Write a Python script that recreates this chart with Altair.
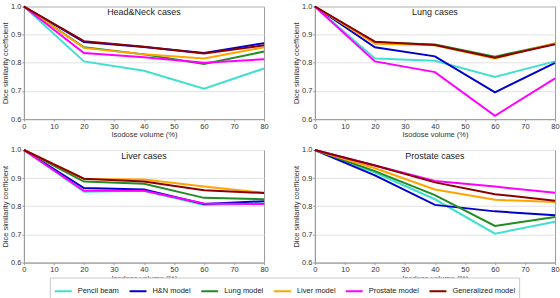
import altair as alt
import pandas as pd

# Isodose volume levels (%) shared by all panels
volumes = [0, 20, 40, 60, 80]

models = ["Pencil beam", "H&N model", "Lung model", "Liver model",
          "Prostate model", "Generalized model"]
model_colors = ["#40E0D0", "#0000CD", "#228B22", "#FFA500", "#FF00FF", "#8B0000"]

# Dice similarity coefficient per model, one value per isodose level
hn_cases = {
    "Pencil beam":       [1.0, 0.805, 0.772, 0.708, 0.780],
    "H&N model":         [1.0, 0.874, 0.856, 0.835, 0.870],
    "Lung model":        [1.0, 0.855, 0.830, 0.796, 0.840],
    "Liver model":       [1.0, 0.853, 0.830, 0.815, 0.855],
    "Prostate model":    [1.0, 0.835, 0.820, 0.800, 0.813],
    "Generalized model": [1.0, 0.877, 0.857, 0.833, 0.862],
}
lung_cases = {
    "Pencil beam":       [1.0, 0.815, 0.807, 0.750, 0.805],
    "H&N model":         [1.0, 0.855, 0.823, 0.695, 0.800],
    "Lung model":        [1.0, 0.872, 0.865, 0.822, 0.868],
    "Liver model":       [1.0, 0.868, 0.862, 0.815, 0.870],
    "Prostate model":    [1.0, 0.805, 0.767, 0.612, 0.745],
    "Generalized model": [1.0, 0.875, 0.863, 0.818, 0.866],
}
liver_cases = {
    "Pencil beam":       [1.0, 0.852, 0.855, 0.805, 0.810],
    "H&N model":         [1.0, 0.865, 0.860, 0.808, 0.818],
    "Lung model":        [1.0, 0.888, 0.880, 0.830, 0.825],
    "Liver model":       [1.0, 0.897, 0.895, 0.870, 0.848],
    "Prostate model":    [1.0, 0.855, 0.855, 0.810, 0.808],
    "Generalized model": [1.0, 0.898, 0.888, 0.857, 0.847],
}
prostate_cases = {
    "Pencil beam":       [1.0, 0.920, 0.825, 0.703, 0.745],
    "H&N model":         [1.0, 0.910, 0.805, 0.782, 0.768],
    "Lung model":        [1.0, 0.925, 0.840, 0.730, 0.762],
    "Liver model":       [1.0, 0.935, 0.860, 0.823, 0.815],
    "Prostate model":    [1.0, 0.945, 0.890, 0.870, 0.848],
    "Generalized model": [1.0, 0.945, 0.885, 0.843, 0.820],
}

panel_titles = ["Head&Neck cases", "Lung cases", "Liver cases", "Prostate cases"]
panel_data = [hn_cases, lung_cases, liver_cases, prostate_cases]

PLOT_W = 241
PLOT_H = 113
FONT = "Liberation Sans"


def long_table(cases):
    rows = []
    for model in models:
        for vol, dsc in zip(volumes, cases[model]):
            rows.append({"model": model, "volume": vol, "dsc": dsc})
    return pd.DataFrame(rows)


def panel(title, cases):
    lines = alt.Chart(long_table(cases)).mark_line(strokeWidth=2).encode(
        x=alt.X("volume:Q",
                scale=alt.Scale(domain=[0, 80], nice=False),
                axis=alt.Axis(values=list(range(0, 81, 10)),
                              title="Isodose volume (%)", grid=False,
                              labelFlush=False)),
        y=alt.Y("dsc:Q",
                scale=alt.Scale(domain=[0.6, 1.0], nice=False),
                axis=alt.Axis(values=[0.6, 0.7, 0.8, 0.9, 1.0], format=".1f",
                              title="Dice similarity coefficient",
                              labelFlush=False)),
        color=alt.Color("model:N",
                        scale=alt.Scale(domain=models, range=model_colors),
                        legend=alt.Legend(title=None)),
    )
    label = alt.Chart(pd.DataFrame({"t": [title]})).mark_text(
        font=FONT, fontSize=9, baseline="top", align="center", color="#222"
    ).encode(text="t:N", x=alt.value(PLOT_W / 2), y=alt.value(2))
    return alt.layer(lines, label).properties(width=PLOT_W, height=PLOT_H)


panels = [panel(t, d) for t, d in zip(panel_titles, panel_data)]

chart = alt.vconcat(
    alt.hconcat(panels[0], panels[1], spacing=23),
    alt.hconcat(panels[2], panels[3], spacing=23),
    spacing=6,
).properties(
    padding={"left": 1, "top": 1, "right": 0, "bottom": 0},
    background="white",
).configure_view(
    stroke="#9a9a9a", strokeWidth=1
).configure_axis(
    labelFont=FONT, titleFont=FONT, labelFontSize=7.5, titleFontSize=7.5,
    titleFontWeight="normal", labelColor="#333", titleColor="#333",
    tickSize=2, tickColor="#9a9a9a", domainColor="#9a9a9a",
    gridColor="#e2e2e2", labelPadding=1, titlePadding=1,
).configure_legend(
    orient="none", legendX=26, legendY=272, direction="horizontal", columns=6,
    gridAlign="each",
    labelFont=FONT, labelFontSize=7.5, labelColor="#222",
    symbolType="stroke", symbolStrokeWidth=2, symbolSize=289,
    labelOffset=5, columnPadding=6, padding=4,
    strokeColor="#c8c8c8", fillColor="white",
)

chart.save("out.html", embed_options={"renderer": "svg", "actions": False})
